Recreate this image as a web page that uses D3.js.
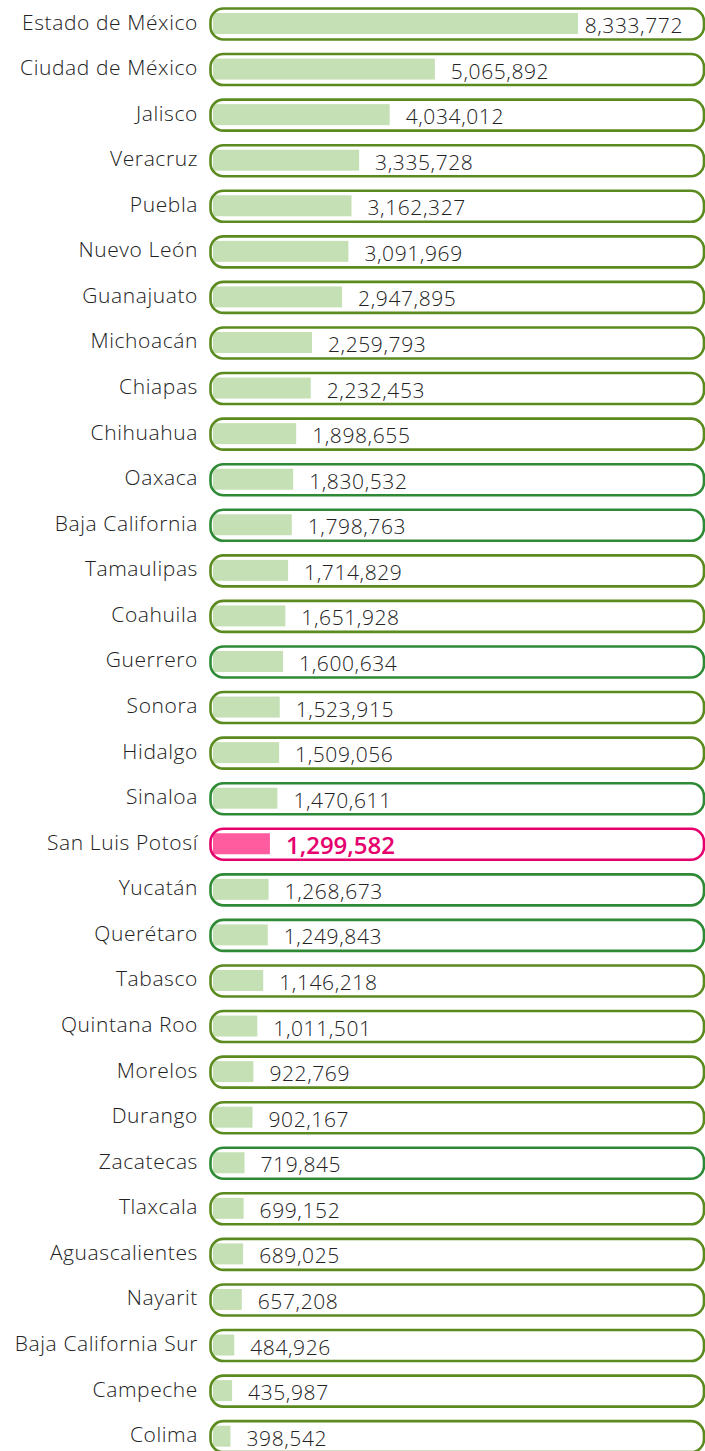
<!DOCTYPE html>
<html>
<head>
<meta charset="utf-8">
<script src="https://cdn.jsdelivr.net/npm/d3@7"></script>
<style>
    body { margin: 0; background: #fff; }
    svg { display: block; }
</style>
</head>
<body>
<div id="chart"></div>
<script>
(function () {

    // Data
    var states = ["Estado de México", "Ciudad de México", "Jalisco", "Veracruz", "Puebla",
        "Nuevo León", "Guanajuato", "Michoacán", "Chiapas", "Chihuahua", "Oaxaca",
        "Baja California", "Tamaulipas", "Coahuila", "Guerrero", "Sonora", "Hidalgo",
        "Sinaloa", "San Luis Potosí", "Yucatán", "Querétaro", "Tabasco", "Quintana Roo",
        "Morelos", "Durango", "Zacatecas", "Tlaxcala", "Aguascalientes", "Nayarit",
        "Baja California Sur", "Campeche", "Colima"];
    var population = [8333772, 5065892, 4034012, 3335728, 3162327, 3091969, 2947895,
        2259793, 2232453, 1898655, 1830532, 1798763, 1714829, 1651928, 1600634,
        1523915, 1509056, 1470611, 1299582, 1268673, 1249843, 1146218, 1011501,
        922769, 902167, 719845, 699152, 689025, 657208, 484926, 435987, 398542];
    var highlight = "San Luis Potosí";
    var altGreenStates = ["Oaxaca", "Baja California", "Guerrero", "Sinaloa",
        "Yucatán", "Querétaro", "Zacatecas"];

    // Colors
    var olive = "#5b8a1f";
    var green = "#2f8a36";
    var barColor = "#c6e0b5";
    var pinkLine = "#e6006d";
    var pinkBar = "#ff5c9f";
    var textColor = "#222222";
    var font = "'Open Sans', 'Noto Sans', sans-serif";

    var width = 705, height = 1451;

    var data = states.map(function (s, i) {
        return {name: s, value: population[i]};
    });

    var svg = d3.select("#chart")
        .append("svg")
        .attr("width", width)
        .attr("height", height);

    var y = d3.scalePoint()
        .domain(states)
        .range([24, 24 + 31 * 45.57]);

    var x = d3.scaleLinear()
        .domain([0, d3.max(population)])
        .range([213, 578]);

    var boxLeft = 210.5, boxRight = 704, boxH = 31, barH = 21;

    var defs = svg.append("defs");

    var row = svg.selectAll(".row")
        .data(data)
        .enter().append("g")
        .attr("class", "row");

    // clip each bar to its rounded box
    defs.selectAll("clipPath")
        .data(data)
        .enter().append("clipPath")
        .attr("id", function (d, i) { return "clip" + i; })
        .append("rect")
        .attr("x", boxLeft)
        .attr("y", function (d) { return y(d.name) - boxH / 2; })
        .attr("width", boxRight - boxLeft)
        .attr("height", boxH)
        .attr("rx", 13);

    row.append("rect")
        .attr("class", "bar")
        .attr("clip-path", function (d, i) { return "url(#clip" + i + ")"; })
        .attr("x", x(0))
        .attr("y", function (d) { return y(d.name) - barH / 2 - 0.5; })
        .attr("width", function (d) { return x(d.value) - x(0); })
        .attr("height", barH)
        .style("fill", function (d) { return d.name === highlight ? pinkBar : barColor; });

    row.append("rect")
        .attr("class", "box")
        .attr("x", boxLeft)
        .attr("y", function (d) { return y(d.name) - boxH / 2; })
        .attr("width", boxRight - boxLeft)
        .attr("height", boxH)
        .attr("rx", 13)
        .style("fill", "none")
        .style("stroke-width", 2.6)
        .style("stroke", function (d) {
            if (d.name === highlight) return pinkLine;
            return altGreenStates.indexOf(d.name) >= 0 ? green : olive;
        });

    // state names
    row.append("text")
        .attr("x", 198)
        .attr("y", function (d) { return y(d.name) + 5.5; })
        .attr("text-anchor", "end")
        .style("font-family", font)
        .style("font-size", "21px")
        .style("font-weight", 300)
        .style("letter-spacing", "0.6px")
        .style("fill", textColor)
        .text(function (d) { return d.name; });

    // values
    var fmt = d3.format(",");
    row.append("text")
        .attr("class", "value")
        .attr("y", function (d) { return y(d.name) + (d.name === highlight ? 10 : 9); })
        .style("font-family", font)
        .style("font-size", function (d) { return d.name === highlight ? "24px" : "21px"; })
        .style("font-weight", function (d) { return d.name === highlight ? 600 : 300; })
        .style("letter-spacing", function (d) { return d.name === highlight ? "0px" : "0.6px"; })
        .style("fill", function (d) { return d.name === highlight ? pinkLine : textColor; })
        .text(function (d) { return fmt(d.value); })
        .attr("x", function (d) {
            var len = this.getComputedTextLength();
            return Math.min(x(d.value) + 16, 683 - len);
        });

})();
</script>
</body>
</html>
